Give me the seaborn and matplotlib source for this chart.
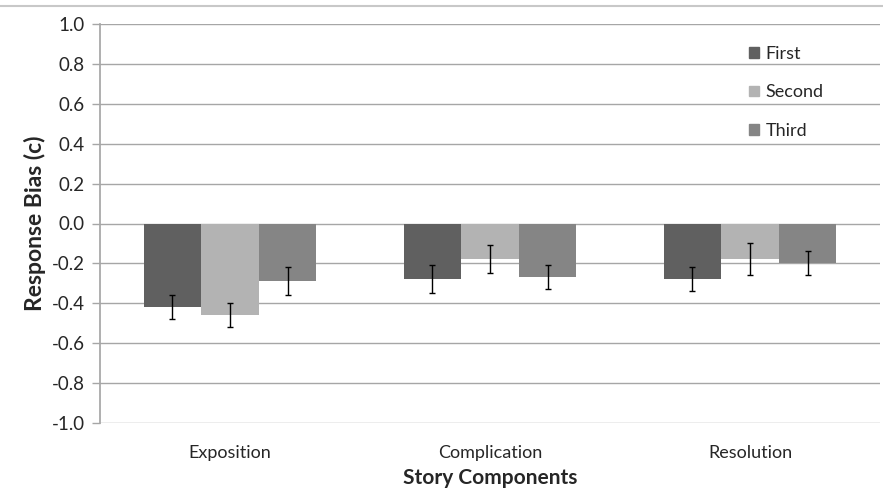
import matplotlib
matplotlib.use("Agg")
import matplotlib.pyplot as plt
import seaborn as sns
import pandas as pd
import numpy as np
from matplotlib.lines import Line2D

categories = ["Exposition", "Complication", "Resolution"]
series = ["First", "Second", "Third"]
first = [-0.42, -0.28, -0.28]
second = [-0.46, -0.18, -0.18]
third = [-0.29, -0.27, -0.20]
first_err = [0.06, 0.07, 0.06]
second_err = [0.06, 0.07, 0.08]
third_err = [0.07, 0.06, 0.06]
yticks = [-1.0, -0.8, -0.6, -0.4, -0.2, 0.0, 0.2, 0.4, 0.6, 0.8, 1.0]

sns.set_theme(style="white")
plt.rcParams['font.family'] = ['Lato', 'DejaVu Sans']

rows = []
for s, vals, errs in zip(series, [first, second, third], [first_err, second_err, third_err]):
    for c, v, e in zip(categories, vals, errs):
        rows.append({"Component": c, "Series": s, "Value": v, "Err": e})
df = pd.DataFrame(rows)

colors = ["#606060", "#b3b3b3", "#858585"]

fig = plt.figure(figsize=(8.83, 5.0), dpi=100)
ax = fig.add_axes([0.1133, 0.154, 0.8833, 0.798])

ax.set_axisbelow(True)
for t in yticks:
    ax.axhline(t, color="#a6a6a6", lw=1.0, zorder=0)

sns.barplot(data=df, x="Component", y="Value", hue="Series", order=categories,
            hue_order=series, palette=colors, width=0.665, saturation=1,
            errorbar=None, ax=ax, legend=False, zorder=2, linewidth=0)

for cont, s in zip(ax.containers, series):
    sub = df[df.Series == s].set_index("Component").loc[categories]
    xs = [p.get_x() + p.get_width() / 2 for p in cont.patches]
    ax.errorbar(xs, sub["Value"].values, yerr=sub["Err"].values, fmt="none",
                ecolor="black", elinewidth=1.0, capsize=2.5, capthick=1.0, zorder=3)

ax.set_ylim(-1.0, 1.0)
ax.set_xlim(-0.5, 2.5)
ax.set_yticks(yticks)
ax.set_yticklabels([f"{t:.1f}" for t in yticks], fontsize=13.5)
ax.tick_params(axis="x", labelsize=13, length=0, pad=16)
ax.tick_params(axis="y", left=True, length=6, color="#a6a6a6", width=1, pad=5)
for sp in ["top", "right", "bottom"]:
    ax.spines[sp].set_visible(False)
ax.spines["left"].set_color("#a6a6a6")
ax.set_xlabel("Story Components", fontsize=15, fontweight="bold", labelpad=5)
ax.set_ylabel("Response Bias (c)", fontsize=16.5, fontweight="bold", labelpad=4)

handles = [plt.Rectangle((0, 0), 1, 1, color=c) for c in colors]
ax.legend(handles, series, loc="upper left", bbox_to_anchor=(0.8115, 0.986),
          frameon=False, fontsize=13, handlelength=0.55, handleheight=0.55,
          handletextpad=0.35, labelspacing=1.25)

fig.add_artist(Line2D([0, 1], [0.988, 0.988], color="#c8c8c8", lw=1.5,
                      transform=fig.transFigure))

fig.savefig("out.png", dpi=100)
